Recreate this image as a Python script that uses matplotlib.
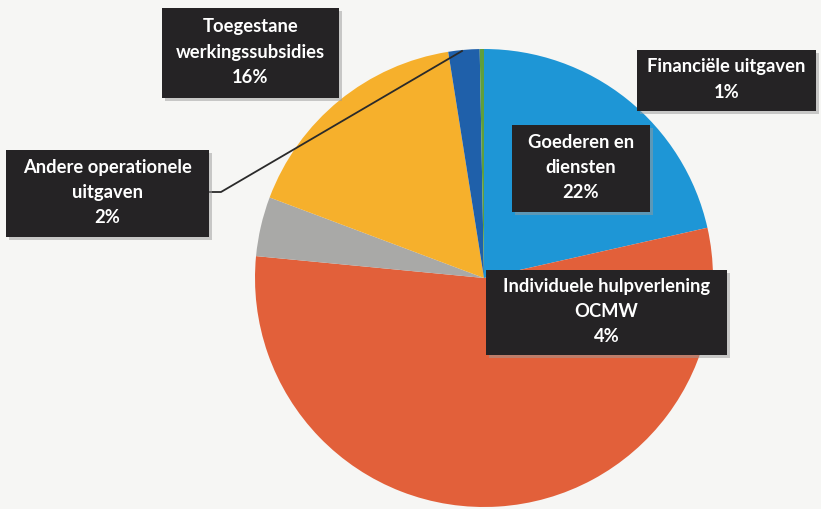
import matplotlib
matplotlib.use("Agg")
import matplotlib.pyplot as plt
from matplotlib.patches import Rectangle

# ---- data ----
slice_names = ["Goederen en diensten", "Personeel", "Individuele hulpverlening OCMW",
               "Toegestane werkingssubsidies", "Andere operationele uitgaven",
               "Financiële uitgaven"]
slice_values = [21.5, 55.1, 4.2, 16.8, 2.2, 0.3]
slice_colors = ["#1E96D6", "#E2603A", "#A9A9A7", "#F6B02C", "#1F60AA", "#5F9F3C"]

label_texts = ["Toegestane\nwerkingssubsidies", "Andere operationele\nuitgaven",
               "Financiële uitgaven", "Goederen en\ndiensten",
               "Individuele hulpverlening\nOCMW"]
label_pcts = ["16%", "2%", "1%", "22%", "4%"]

W, H = 821, 509
fig = plt.figure(figsize=(W / 100, H / 100), dpi=100)
fig.patch.set_facecolor("#F6F6F4")
ax = fig.add_axes([0, 0, 1, 1])
ax.set_facecolor("#F6F6F4")

cx, cy, r = 484, H - 278, 229
ax.pie(slice_values, colors=slice_colors, startangle=90, counterclock=False,
       center=(cx, cy), radius=r, wedgeprops=dict(linewidth=0))
ax.set_xlim(0, W)
ax.set_ylim(0, H)
ax.set_aspect("equal")
ax.axis("off")

# leader line for "Andere operationele uitgaven"
lx = [209, 221, 462]
ly = [192, 192, 51]
ax.plot(lx, [H - v for v in ly], color="#2A2A2A", lw=1.3, zorder=5)

# label boxes: (x0, y0, x1, y1) in pixel layout coordinates
boxes = [(162, 8, 339, 98), (6, 150, 209, 237), (637, 50, 816, 111),
         (512, 125, 650, 212), (486, 270, 727, 355)]
for (x0, y0, x1, y1), txt, pct in zip(boxes, label_texts, label_pcts):
    ax.add_patch(Rectangle((x0 + 3, H - y1 - 3), x1 - x0, y1 - y0,
                           facecolor="#9A9A9A", edgecolor="none", alpha=0.5, zorder=6))
    ax.add_patch(Rectangle((x0, H - y1), x1 - x0, y1 - y0,
                           facecolor="#252325", edgecolor="none", zorder=7))
    ax.text((x0 + x1) / 2, H - (y0 + y1) / 2 + 1, txt + "\n" + pct,
            ha="center", va="center", color="white", fontsize=13.2,
            fontweight="bold", family=["Lato", "DejaVu Sans"],
            linespacing=1.6, zorder=8)

fig.savefig("out.png", dpi=100, facecolor=fig.get_facecolor())
